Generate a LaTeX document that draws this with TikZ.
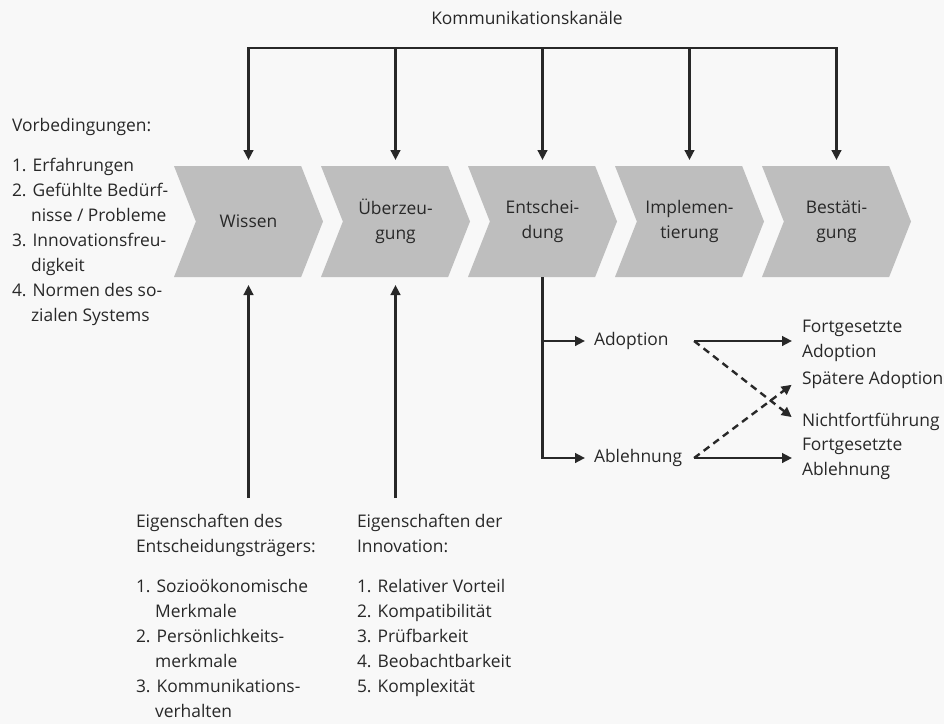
\documentclass[tikz,border=0pt]{standalone}
\usepackage{fontspec}
\setmainfont{Open Sans}
\usetikzlibrary{positioning,shapes.symbols,arrows.meta}

\definecolor{ink}{RGB}{40,40,40}
\definecolor{stagegray}{RGB}{190,190,190}
\definecolor{paper}{RGB}{248,248,248}
\newcommand{\einzug}{\phantom{1.~}}

\begin{document}
\begin{tikzpicture}[x=0.5pt,y=-0.5pt,>={Triangle[length=5pt,width=4.8pt]},
    line width=1.2pt,color=ink,font=\fontsize{8.7}{12.5}\selectfont,
    every node/.style={inner sep=0pt,outer sep=0pt},
    stage/.style={signal,signal from=west,signal to=east,
      signal pointer angle=137,fill=stagegray,align=center,
      minimum width=74.5pt,minimum height=55.5pt},
    lbl/.style={align=left,inner sep=2pt},
    arr/.style={->},
    alt/.style={->,dash pattern=on 3.5pt off 2.5pt}]
  \path[use as bounding box,fill=paper] (0,0) rectangle (944,724);

  % phases
  \node (kk) at (527,18) {Kommunikationskanäle};
  \coordinate (bus) at (0,48);
  \foreach \n/\t [count=\k from 0] in {wi/Wissen,ue/{Überzeu-\\gung},
      en/{Entschei-\\dung},im/{Implemen-\\tierung},be/{Bestäti-\\gung}}
    \node[stage] (\n) at (248.5+147*\k,221.5) {\t};

  % channels from above
  \draw[<->,shorten <=3pt,shorten >=3pt] (wi.north) |- (bus -| be.north) -- (be.north);
  \foreach \n in {ue,en,im}
    \draw[arr,shorten >=3pt] (bus -| \n.north) -- (\n.north);

  % conditions and characteristics
  \node[lbl,anchor=north west] (vorb) at (8,114) {Vorbedingungen:\\[7.5pt]
    1. Erfahrungen\\2. Gefühlte Bedürf-\\\einzug nisse / Probleme\\
    3. Innovationsfreu-\\\einzug digkeit\\4. Normen des so-\\\einzug zialen Systems};
  \node[lbl,anchor=north west] (trae) at (132,510) {Eigenschaften des\\
    Entscheidungsträgers:\\[7.5pt]1. Sozioökonomische\\\einzug Merkmale\\
    2. Persönlichkeits-\\\einzug merkmale\\3. Kommunikations-\\\einzug verhalten};
  \node[lbl,anchor=north west] (inno) at (353,510) {Eigenschaften der\\
    Innovation:\\[7.5pt]1. Relativer Vorteil\\2. Kompatibilität\\
    3. Prüfbarkeit\\4. Beobachtbarkeit\\5. Komplexität};
  \draw[arr,shorten <=6pt,shorten >=4pt] (trae.north -| wi.south) -- (wi.south);
  \draw[arr,shorten <=6pt,shorten >=4pt] (inno.north -| ue.south) -- (ue.south);

  % decision
  \node[lbl,anchor=west] (adop) at (590,341) {Adoption};
  \node[lbl,below=58.5pt of adop.west,anchor=west] (ablh) {Ablehnung};
  \draw[arr,shorten >=2.5pt] (en.south) |- (ablh.west);
  \draw[arr,shorten >=2.5pt] (en.south |- adop.west) -- (adop.west);
  \coordinate (fork) at ([xshift=4pt]ablh.east);

  \node[lbl,anchor=west] (fado) at (798,341) {Fortgesetzte\\Adoption};
  \node[lbl,anchor=west] (spad) at (798,380) {Spätere Adoption};
  \node[lbl,anchor=west] (nich) at (798,422) {Nichtfortführung};
  \node[lbl,anchor=west] (fabl) at (798,458.5) {Fortgesetzte\\Ablehnung};
  \draw[arr,shorten >=3pt] (fork |- fado.west) -- (fado.west);
  \draw[arr,shorten >=3pt] (fork) -- (fork -| fabl.west);
  \draw[alt,shorten >=4pt] (fork |- adop.west) -- (nich.west);
  \draw[alt,shorten >=4pt] (fork) -- (spad.west);
\end{tikzpicture}
\end{document}
